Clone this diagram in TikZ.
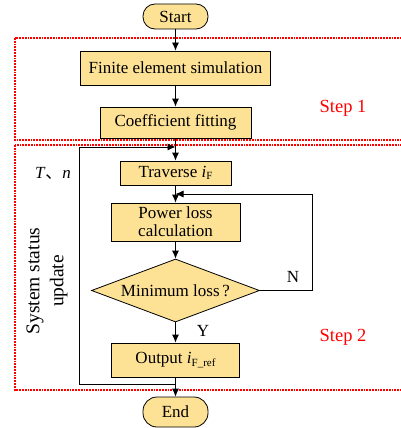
\documentclass[tikz,border=0pt]{standalone}
\usepackage{fontspec}
\setmainfont{Liberation Serif}
\newfontfamily\cjk{Noto Sans CJK SC}
\usetikzlibrary{arrows.meta,shapes.geometric}
\definecolor{boxfill}{RGB}{253,226,150}
\tikzset{
  box/.style={draw, fill=boxfill, line width=0.8pt, inner sep=0pt, align=center,
    font=\fontsize{17}{19}\selectfont},
  term/.style={box, rounded corners=12pt},
  decision/.style={box, diamond, shape aspect=2.67, minimum width=168pt, minimum height=63pt},
  conn/.style={line width=0.8pt},
  arr/.style={conn, -{Latex[length=8pt,width=7pt]}},
  stepframe/.style={red, line width=1.2pt, dash pattern=on 1.8pt off 1pt},
  steplabel/.style={red, font=\fontsize{18.5}{21}\selectfont},
  lbl/.style={font=\fontsize{17}{19}\selectfont}
}
\begin{document}
\begin{tikzpicture}[x=1pt,y=-1pt]
\clip (0,0) rectangle (401,428);
\fill[white] (0,0) rectangle (401,428);
% step frames
\draw[stepframe] (15,38) rectangle (420,140);
\draw[stepframe] (15,145) rectangle (420,390);
% nodes
\node[term, minimum width=65pt, minimum height=25pt] (start) at (175.5,16.5) {Start};
\node[box, minimum width=190pt, minimum height=34pt] (fem) at (175.5,68) {Finite element simulation};
\node[box, minimum width=151pt, minimum height=31pt] (coef) at (175.5,122.5) {Coefficient fitting};
\node[box, minimum width=111pt, minimum height=24pt] (trav) at (175.5,173) {Traverse \textit{i}\raisebox{-2.5pt}{\fontsize{11}{11}\selectfont F}};
\node[box, minimum width=129pt, minimum height=38pt] (power) at (175.5,222) {Power loss\\[-1pt]calculation};
\node[decision] (dia) at (175.5,290.5) {Minimum loss\,?};
\node[box, minimum width=128pt, minimum height=34pt] (out) at (175.5,360) {Output \textit{i}\raisebox{-3pt}{\fontsize{11}{11}\selectfont F\_ref}};
\node[term, minimum width=65pt, minimum height=30pt, rounded corners=14pt] (end) at (175.5,412) {End};
% labels
\node[steplabel] (s1) at (343,108) {Step 1};
\node[steplabel] (s2) at (343,337) {Step 2};
\node[lbl] (tn) at (53,173) {\textit{T}{\cjk 、}\textit{n}};
\node[rotate=90, align=center, font=\fontsize{19.5}{24}\selectfont] (sys) at (47,281) {System status\\update};
\node[lbl] (ylab) at (203,331) {Y};
\node[lbl] (nlab) at (293,277) {N};
% coordinates
\coordinate (j1) at (175.5,147);
\coordinate (j2) at (175.5,384);
\coordinate (j3) at (175.5,194);
\coordinate (lt) at (79,147);
\coordinate (lb) at (79,384);
\coordinate (rt) at (312,194);
\coordinate (rb) at (312,290.5);
% connectors
\draw[arr] (start) -- (fem);
\draw[arr] (fem) -- (coef);
\draw[arr] (coef) -- (trav);
\draw[arr] (trav) -- (power);
\draw[arr] (power) -- (dia);
\draw[arr] (dia) -- (out);
\draw[arr] (out) -- (end);
\draw[conn] (j2) -- (lb) -- (lt);
\draw[arr] (lt) -- (j1);
\draw[conn] (dia.east) -- (rb) -- (rt);
\draw[arr] (rt) -- (j3);
\end{tikzpicture}
\end{document}
